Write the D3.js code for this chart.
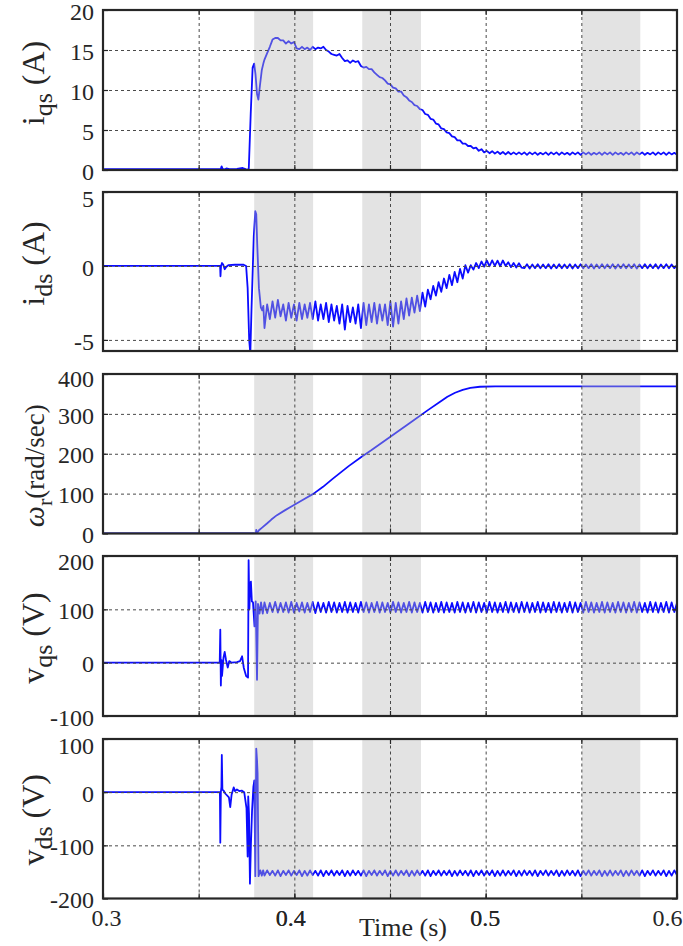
<!DOCTYPE html>
<html>
<head>
<meta charset="utf-8">
<script src="https://cdn.jsdelivr.net/npm/d3@7"></script>
<style>
  body { margin: 0; background: #fff; }
  svg { display: block; }
</style>
</head>
<body>
<svg id="canvas"></svg>
<script>
let width = 683
let height = 946
let left = 103
let right = 677
let serif = '"Liberation Serif", "Times New Roman", serif'

// time axis
let xTicks = [0.3, 0.4, 0.5, 0.6]
let xGrid = [0.35, 0.4, 0.45, 0.5, 0.55]
let bands = [[0.379, 0.4098], [0.4355, 0.4662], [0.5503, 0.5808]]

// y ticks of each panel
let iqsTicks = [0, 5, 10, 15, 20]
let idsTicks = [-5, 0, 5]
let wrTicks = [0, 100, 200, 300, 400]
let vqsTicks = [-100, 0, 100, 200]
let vdsTicks = [-200, -100, 0, 100]

// after the start-up the traces are read every 1.4 ms (peak / trough of the ripple)
let sampleStart = 0.3844
let sampleStep = 0.0014

let iqsEarly = [[0.3, 0.1], [0.36, 0.1], [0.3615, 0.1], [0.362, 0.45], [0.3625, 0.15], [0.3635, 0.05], [0.3645, 0.2],
  [0.366, 0.1], [0.37, 0.15], [0.373, 0.25], [0.3745, 0.1], [0.3755, 0.0], [0.3762, 0.2], [0.3772, 7], [0.3782, 12.8],
  [0.379, 13.3], [0.3797, 12.0], [0.3805, 9.5], [0.3812, 8.8], [0.382, 10.5], [0.383, 12.5], [0.3838, 13.3]]
let iqsSamples = [13.8, 14.6, 15.4, 16.3, 16.5, 16.5, 16.2, 16.2, 15.8, 16.1, 15.8, 16.0, 15.2, 15.1, 15.4, 15.1, 15.3, 15.0,
  15.4, 15.1, 15.3, 15.2, 15.4, 15.0, 14.8, 14.5, 14.4, 14.3, 14.5, 14.0, 13.6, 13.7, 13.4, 13.7, 13.5, 13.6, 13.0, 12.8,
  12.9, 12.6, 12.6, 12.2, 11.9, 11.6, 11.5, 11.2, 10.8, 10.7, 10.3, 10.2, 9.8, 9.8, 9.3, 9.1, 8.7, 8.5, 8.1, 8.0, 7.6, 7.5,
  7.0, 6.9, 6.4, 6.3, 5.8, 5.7, 5.2, 5.1, 4.7, 4.6, 4.2, 4.1, 3.7, 3.7, 3.3, 3.3, 3.0, 3.0, 2.7, 2.8, 2.4, 2.6, 2.2, 2.4,
  2.1, 2.35, 2.05, 2.3, 2.0, 2.25, 1.95, 2.25, 1.95, 2.2, 1.95, 2.2,
  1.95, 2.2, 1.9, 2.2, 1.95, 2.2, 1.9, 2.15, 1.95, 2.2, 1.9, 2.2, 1.95, 2.2, 1.9, 2.2, 1.95, 2.15, 1.9, 2.2,
  1.95, 2.2, 1.9, 2.2, 1.95, 2.2, 1.9, 2.15, 1.95, 2.2, 1.9, 2.2, 1.95, 2.2, 1.9, 2.2, 1.95, 2.15, 1.9, 2.2,
  1.95, 2.2, 1.9, 2.2, 1.95, 2.2, 1.9, 2.15, 1.95, 2.2, 1.9, 2.2, 1.95, 2.2, 1.9, 2.2, 1.95, 2.15, 1.9]

let idsEarly = [[0.3, 0], [0.3612, 0], [0.3614, -0.7], [0.3617, 0.0], [0.3622, 0.2], [0.3628, 0.1], [0.3636, -0.22],
  [0.3645, -0.05], [0.3655, 0.05], [0.369, 0.08], [0.3735, 0.08], [0.3748, 0.0], [0.3756, -1.5], [0.3764, -5.0],
  [0.377, -5.9], [0.3776, -3.0], [0.3788, 2.0], [0.3796, 3.7], [0.3801, 3.5], [0.3806, 1.5], [0.3815, -1.5],
  [0.3825, -2.8], [0.3832, -3.0], [0.3838, -2.7]]
let idsSamples = [-4.2, -2.6, -3.6, -2.4, -3.5, -2.3, -3.4, -2.6, -3.7, -2.5,
  -3.5, -2.6, -3.7, -2.5, -3.6, -2.6, -3.5, -2.5, -3.6, -2.4,
  -3.7, -2.6, -3.6, -2.5, -3.8, -2.6, -3.7, -2.7, -3.9, -2.6,
  -4.3, -2.7, -3.8, -2.8, -3.9, -2.6, -4.2, -2.5, -4.0, -2.6,
  -3.8, -2.5, -3.9, -2.6, -3.7, -2.6, -4.0, -2.4, -4.1, -2.5,
  -3.9, -2.4, -3.6, -2.2,
  -3.35, -2.15, -3.15, -2.0, -3.05, -1.8, -2.75, -1.6, -2.25, -1.35,
  -2.0, -1.1, -1.75, -0.85, -1.5, -0.6, -1.3, -0.4, -1.1, -0.2,
  -0.85, 0.05, -0.45, 0.05, -0.25, 0.2, -0.15, 0.3, -0.05, 0.37,
  -0.02, 0.38, 0.0, 0.36, -0.02, 0.37, 0.0, 0.25, -0.08, 0.2,
  -0.1, 0.18, -0.12,
  -0.15, 0.12, -0.18, 0.1, -0.15, 0.12, -0.16, 0.1, -0.15, 0.12,
  -0.17, 0.1, -0.15, 0.12, -0.16, 0.1, -0.15, 0.12, -0.17, 0.1,
  -0.15, 0.12, -0.16, 0.1, -0.15, 0.12, -0.17, 0.1, -0.15, 0.12,
  -0.16, 0.1, -0.15, 0.12, -0.17, 0.1, -0.15, 0.12, -0.16, 0.1,
  -0.15, 0.12, -0.17, 0.1, -0.15, 0.12, -0.16, 0.1, -0.15, 0.12,
  -0.17, 0.1, -0.15, 0.12, -0.16, 0.1, -0.15, 0.05]

let wrPoints = [[0.3, 0], [0.3794, 0], [0.3798, -3], [0.3801, 9], [0.3804, 1], [0.3808, 3], [0.3815, 8], [0.383, 14],
  [0.3857, 25], [0.388, 35], [0.3909, 46], [0.395, 58], [0.3996, 71], [0.405, 86], [0.4101, 100], [0.415, 117],
  [0.42, 137], [0.4284, 169], [0.435, 192], [0.44, 208], [0.45, 242], [0.46, 276], [0.47, 310], [0.476, 330],
  [0.48, 343], [0.484, 353], [0.488, 360], [0.492, 365], [0.497, 368], [0.505, 369], [0.55, 369], [0.6, 369]]

let vqsEarly = [[0.3, 0], [0.361, 0], [0.3613, 62], [0.3616, -43], [0.3619, 5], [0.3622, -25], [0.363, 10], [0.3636, 20],
  [0.3643, 5], [0.3652, -9], [0.366, 3], [0.3672, 0], [0.37, 1], [0.3716, 3], [0.3727, 12], [0.3736, -10],
  [0.3748, -25], [0.3758, -28], [0.3761, 192], [0.3765, 100], [0.377, 150], [0.3773, 152], [0.3778, 115],
  [0.3784, 113], [0.3792, 68], [0.3798, 115], [0.3805, -32], [0.381, 110], [0.3818, 92], [0.3826, 113], [0.3835, 92]]
let vqsSamples = [113, 93, 112, 95, 114, 94, 112, 95, 113, 94,
  114, 94, 112, 96, 113, 94, 112, 95, 114, 93,
  113, 95, 112, 94, 114, 95, 113, 94, 112, 95,
  114, 94, 113, 95, 112, 94, 114, 95, 113, 94,
  112, 95, 114, 94, 113, 95, 112, 94, 114, 95,
  113, 94, 112, 95, 114, 94, 113, 95, 112, 94,
  114, 95, 113, 94, 112, 95, 114, 94, 113, 95,
  112, 94, 114, 95, 113, 94, 112, 95, 114, 94,
  113, 95, 112, 94, 114, 95, 113, 94, 112, 95,
  114, 94, 113, 95, 112, 94, 114, 95, 113, 94,
  112, 95, 114, 94, 113, 95, 112, 94, 114, 95,
  113, 94, 112, 95, 114, 94, 113, 95, 112, 94,
  114, 95, 113, 94, 112, 95, 114, 94, 113, 95,
  112, 94, 114, 95, 113, 94, 112, 95, 114, 94,
  113, 95, 112, 94, 114, 95, 113, 94, 112, 95,
  114, 94, 113, 95, 112]

let vdsEarly = [[0.3, 0], [0.3611, 0], [0.3613, -95], [0.3616, 0], [0.3619, 10], [0.3621, 70], [0.3624, 5], [0.363, 3],
  [0.364, -3], [0.3658, -10], [0.3665, -28], [0.3672, -5], [0.3683, 9], [0.369, 2], [0.37, 5], [0.3712, 2],
  [0.3725, 3], [0.3738, 0], [0.3746, -20], [0.375, -30], [0.3756, -121], [0.3759, -8], [0.3763, -40],
  [0.3768, -172], [0.3773, -100], [0.3779, -35], [0.3786, 10], [0.3791, 22], [0.3796, -158], [0.3801, 82],
  [0.3805, 60], [0.3808, 35], [0.3813, -158], [0.3822, -147], [0.383, -157], [0.3837, -147]]
let vdsSamples = [-157, -147, -156, -148, -157, -147, -158, -148, -156, -147,
  -157, -148, -156, -147, -158, -148, -157, -147, -156, -148,
  -157, -147, -158, -148, -156, -147, -157, -148, -156, -147,
  -158, -148, -157, -147, -156, -148, -157, -147, -158, -148,
  -156, -147, -157, -148, -156, -147, -158, -148, -157, -147,
  -157, -148, -156, -147, -158, -148, -157, -147, -156, -148,
  -157, -147, -158, -148, -156, -147, -157, -148, -156, -147,
  -158, -148, -157, -147, -156, -148, -157, -147, -158, -148,
  -156, -147, -157, -148, -156, -147, -158, -148, -157, -147,
  -157, -148, -156, -147, -158, -148, -157, -147, -156, -148,
  -157, -147, -158, -148, -156, -147, -157, -148, -156, -147,
  -158, -148, -157, -147, -156, -148, -157, -147, -158, -148,
  -156, -147, -157, -148, -156, -147, -158, -148, -157, -147,
  -157, -148, -156, -147, -158, -148, -157, -147, -156, -148,
  -157, -147, -158, -148, -156, -147, -157, -148, -156, -147,
  -158, -148, -157, -147, -156]

let withSamples = (early, samples) => {
  return early.concat(samples.map((v, i) => [sampleStart + i * sampleStep, v]))
}

let panels = [
  { key: 'iqs', top: 10, bottom: 170, domain: [0, 20], ticks: iqsTicks, data: withSamples(iqsEarly, iqsSamples),
    label: [{ t: 'i' }, { t: 'qs', sub: true }, { t: ' (A)' }], shift: -7, size: 32, topNudge: 2 },
  { key: 'ids', top: 192, bottom: 351, domain: [-5.75, 5], ticks: idsTicks, data: withSamples(idsEarly, idsSamples),
    label: [{ t: 'i' }, { t: 'ds', sub: true }, { t: ' (A)' }], shift: -8, size: 32, topNudge: 7 },
  { key: 'wr', top: 374, bottom: 533.5, domain: [0, 400], ticks: wrTicks, data: wrPoints,
    label: [{ t: 'ω', italic: true }, { t: 'r', sub: true }, { t: '(rad/sec)' }], shift: 12, size: 27, topNudge: 5 },
  { key: 'vqs', top: 556, bottom: 716, domain: [-100, 200], ticks: vqsTicks, data: withSamples(vqsEarly, vqsSamples),
    label: [{ t: 'v' }, { t: 'qs', sub: true }, { t: ' (V)' }], shift: 2, size: 32, topNudge: 6 },
  { key: 'vds', top: 739, bottom: 898.5, domain: [-200, 100], ticks: vdsTicks, data: withSamples(vdsEarly, vdsSamples),
    label: [{ t: 'v' }, { t: 'ds', sub: true }, { t: ' (V)' }], shift: 1, size: 32, topNudge: 7 }
]

// small nudges of the time labels, as placed in the original figure
let xLabelShift = { 0.3: 3, 0.4: -4, 0.5: -1, 0.6: -10 }

let canvas = d3.select('#canvas')
               .attr('width', width)
               .attr('height', height)

let xScale = d3.scaleLinear()
               .domain([0.3, 0.6])
               .range([left, right])

let styleGrid = (g) => {
  g.select('.domain').remove()
  g.selectAll('line')
   .attr('stroke', '#4a4a4a')
   .attr('stroke-width', 1)
   .attr('stroke-dasharray', '3,3')
}

let styleTicks = (g) => {
  g.select('.domain').remove()
  g.attr('font-family', serif)
  g.selectAll('line').attr('stroke', '#262626').attr('stroke-width', 1.2)
  g.selectAll('text')
   .style('font-family', serif)
   .style('font-size', '24px')
   .attr('fill', '#262626')
}

let drawPanel = (p, isLast) => {
  let yScale = d3.scaleLinear()
                 .domain(p.domain)
                 .range([p.bottom, p.top])

  let plotH = p.bottom - p.top
  let topTick = d3.max(p.ticks)
  let panel = canvas.append('g').attr('id', p.key)

  canvas.append('clipPath')
        .attr('id', 'clip-' + p.key)
        .append('rect')
        .attr('x', left)
        .attr('y', p.top)
        .attr('width', right - left)
        .attr('height', plotH)

  // trace
  let line = d3.line()
               .x(d => xScale(d[0]))
               .y(d => yScale(d[1]))

  panel.append('path')
       .datum(p.data)
       .attr('clip-path', `url(#clip-${p.key})`)
       .attr('d', line)
       .attr('fill', 'none')
       .attr('stroke', '#0c0cff')
       .attr('stroke-width', 1.8)
       .attr('stroke-linejoin', 'round')

  // shaded windows sit over the trace
  panel.selectAll('.band')
       .data(bands)
       .enter()
       .append('rect')
       .attr('class', 'band')
       .attr('x', d => xScale(d[0]))
       .attr('width', d => xScale(d[1]) - xScale(d[0]))
       .attr('y', p.top)
       .attr('height', plotH)
       .attr('fill', '#b8b8b8')
       .attr('opacity', 0.4)

  // dashed grid
  panel.append('g')
       .attr('transform', `translate(0, ${p.bottom})`)
       .call(d3.axisBottom(xScale).tickValues(xGrid).tickSizeInner(-plotH).tickFormat(''))
       .call(styleGrid)

  panel.append('g')
       .attr('transform', `translate(${left}, 0)`)
       .call(d3.axisLeft(yScale).tickValues(p.ticks.filter(v => yScale(v) > p.top + 2 && yScale(v) < p.bottom - 2))
               .tickSizeInner(-(right - left)).tickFormat(''))
       .call(styleGrid)

  // inward ticks and labels
  panel.append('g')
       .attr('transform', `translate(${left}, 0)`)
       .call(d3.axisLeft(yScale).tickValues(p.ticks).tickSizeInner(-5).tickSizeOuter(0).tickPadding(9)
               .tickFormat(d => String(d)))
       .call(styleTicks)
       .call(g => g.selectAll('text').attr('transform', d => `translate(0, ${d === topTick ? p.topNudge : 1.5})`))

  panel.append('g')
       .attr('transform', `translate(${right}, 0)`)
       .call(d3.axisRight(yScale).tickValues(p.ticks).tickSizeInner(-5).tickSizeOuter(0).tickFormat(''))
       .call(styleTicks)

  panel.append('g')
       .attr('transform', `translate(0, ${p.top})`)
       .call(d3.axisTop(xScale).tickValues(xGrid).tickSizeInner(-5).tickSizeOuter(0).tickFormat(''))
       .call(styleTicks)

  let bottomAxis = d3.axisBottom(xScale)
                     .tickValues(isLast ? xTicks.concat(xGrid) : xGrid)
                     .tickSizeInner(-5)
                     .tickSizeOuter(0)
                     .tickPadding(10)
                     .tickFormat(d => (isLast && xTicks.includes(d)) ? d3.format('.1f')(d) : '')

  panel.append('g')
       .attr('transform', `translate(0, ${p.bottom})`)
       .call(bottomAxis)
       .call(styleTicks)
       .call(g => g.selectAll('text').attr('dx', d => xLabelShift[d] || 0))

  // frame
  panel.append('rect')
       .attr('x', left)
       .attr('y', p.top)
       .attr('width', right - left)
       .attr('height', plotH)
       .attr('fill', 'none')
       .attr('stroke', '#262626')
       .attr('stroke-width', 2.2)

  // y label
  let label = canvas.append('text')
                    .attr('transform', `translate(44, ${(p.top + p.bottom) / 2 + p.shift}) rotate(-90)`)
                    .attr('text-anchor', 'middle')
                    .style('font-family', serif)
                    .style('font-size', p.size + 'px')
                    .attr('fill', '#262626')

  let lifted = false
  p.label.forEach(part => {
    let span = label.append('tspan').text(part.t)
    if (part.italic) span.style('font-style', 'italic').style('font-size', (p.size + 3) + 'px')
    if (part.sub) {
      span.attr('dy', 8).style('font-size', Math.round(p.size * 0.8) + 'px')
      lifted = true
    } else if (lifted) {
      span.attr('dy', -8)
      lifted = false
    }
  })
}

panels.forEach((p, i) => drawPanel(p, i === panels.length - 1))

canvas.append('text')
      .attr('x', 403)
      .attr('y', 936)
      .attr('text-anchor', 'middle')
      .style('font-family', serif)
      .style('font-size', '26px')
      .attr('fill', '#262626')
      .text('Time (s)')
</script>
</body>
</html>
